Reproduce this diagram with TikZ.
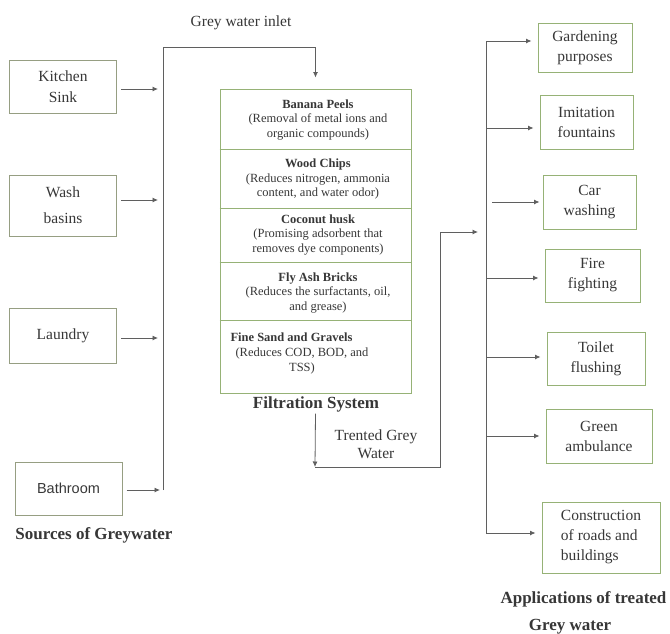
\documentclass[tikz,border=0pt]{standalone}
\usepackage{fontspec}
\setmainfont{Liberation Serif}
\newfontfamily\arialfont{Liberation Sans}
\usetikzlibrary{arrows.meta}
\definecolor{boxline}{RGB}{150,178,118}
\definecolor{srcline}{RGB}{150,158,130}
\definecolor{inktext}{RGB}{55,55,55}
\definecolor{wire}{RGB}{95,95,95}
\begin{document}
\begin{tikzpicture}[x=1pt,y=-1pt,
	srcbox/.style={draw=srcline, line width=1pt, minimum width=107pt, text=inktext, align=center, font=\fontsize{15.5}{21}\selectfont},
	appbox/.style={draw=boxline, line width=1pt, text=inktext, align=center, font=\fontsize{15.5}{20}\selectfont},
	layer/.style={text=inktext, align=center, font=\fontsize{12.5}{14.5}\selectfont},
	caption/.style={text=inktext, font=\bfseries\fontsize{17}{20}\selectfont},
	flow/.style={draw=wire, line width=0.8pt},
	feed/.style={flow, -{Latex[length=5.5pt,width=5pt]}}]

	\useasboundingbox (0,0) rectangle (670,633);

	% sources
	\node[srcbox, minimum height=53pt] (kitchen) at (63,86.5) {Kitchen\\Sink};
	\node[srcbox, minimum height=61pt] (wash) at (63,205.5) {Wash\\[5pt]basins};
	\node[srcbox, minimum height=55pt] (laundry) at (63,336) {Laundry};
	\node[srcbox, minimum height=53pt, font=\arialfont\fontsize{14.5}{17}\selectfont] (bath) at (68.5,488.5) {Bathroom};
	\node[caption] (srclabel) at (94,535) {Sources of Greywater};

	\coordinate (lbusT) at (163,47);
	\coordinate (lbusB) at (163,490);
	\draw[flow] (lbusB) -- (lbusT);
	\draw[feed, shorten <=4pt, shorten >=5pt] (kitchen.east |- 0,89) -- (lbusT |- 0,89);
	\draw[feed, shorten <=4pt, shorten >=5pt] (wash.east |- 0,200) -- (lbusT |- 0,200);
	\draw[feed, shorten <=4pt, shorten >=5pt] (laundry.east |- 0,338) -- (lbusT |- 0,338);
	\draw[feed, shorten <=4pt, shorten >=3pt] (bath.east |- lbusB) -- (lbusB);

	% filtration system
	\node[draw=boxline, line width=1pt, minimum width=191pt, minimum height=304pt] (filter) at (315.5,241) {};
	\foreach \yy in {149,208,262,320}
		\draw[draw=boxline, line width=0.8pt] (filter.west |- 0,\yy) -- (filter.east |- 0,\yy);

	\node[layer] (banana) at (318,120) {\textbf{Banana Peels}\\(Removal of metal ions and\\organic compounds)};
	\node[layer] (wood) at (318,179) {\textbf{Wood Chips}\\(Reduces nitrogen, ammonia\\content, and water odor)};
	\node[layer] (coconut) at (318,235) {\textbf{Coconut husk}\\(Promising adsorbent that\\removes dye components)};
	\node[layer] (flyash) at (318,293) {\textbf{Fly Ash Bricks}\\(Reduces the surfactants, oil,\\and grease)};
	\node[layer, anchor=west] (sand) at (227,337) {\textbf{Fine Sand and Gravels}};
	\node[layer] (sandnote) at (302,361) {(Reduces COD, BOD, and\\TSS)};
	\node[caption] (filterlabel) at (316,404) {Filtration System};

	\node[text=inktext, font=\fontsize{15.5}{20}\selectfont] (inlet) at (241,23) {Grey water inlet};
	\coordinate (inletturn) at (filter.north |- lbusT);
	\draw[flow] (lbusT) -- (inletturn);
	\draw[feed] (inletturn) -- ([yshift=11pt]filter.north);

	% treated water
	\coordinate (tdrop) at (315,467);
	\coordinate (tturn) at (440,467);
	\coordinate (tup) at (440,232);
	\coordinate (rbusT) at (486,41);
	\coordinate (rbusB) at (486,533);
	\draw[feed] ([yshift=-20pt]filter.south) -- (tdrop);
	\draw[feed, shorten >=8pt] (tdrop) -- (tturn) -- (tup) -- (tup -| rbusT);
	\node[text=inktext, align=center, font=\fontsize{15.5}{17.5}\selectfont] (treated) at (376,444) {Trented Grey\\Water};

	% applications
	\node[appbox, minimum width=94pt, minimum height=49pt] (garden) at (585,47.5) {Gardening\\purposes};
	\node[appbox, minimum width=93pt, minimum height=54pt] (fountain) at (586.5,122) {Imitation\\fountains};
	\node[appbox, minimum width=93pt, minimum height=54pt] (car) at (589.5,202) {Car\\washing};
	\node[appbox, minimum width=95pt, minimum height=53pt] (fire) at (592.5,275.5) {Fire\\fighting};
	\node[appbox, minimum width=98pt, minimum height=53pt] (toilet) at (596,358.5) {Toilet\\flushing};
	\node[appbox, minimum width=106pt, minimum height=54pt] (ambulance) at (599,436) {Green\\ambulance};
	\node[appbox, minimum width=118pt, minimum height=71pt, align=left] (roads) at (601,537.5) {Construction\\of roads and\\buildings};

	\draw[flow] (rbusT) -- (rbusB);
	\foreach \app/\yy in {garden/41, fountain/128, fire/278, toilet/357, ambulance/436, roads/533}
		\draw[feed, shorten >=6pt] (rbusT |- 0,\yy) -- (\app.west |- 0,\yy);
	\draw[feed, shorten <=6pt, shorten >=3pt] (rbusT |- car.west) -- (car.west);

	\node[caption, anchor=west] (applabel) at (497,599) {Applications of treated};
	\node[caption] (applabel2) at (570,627) {Grey water};

\end{tikzpicture}
\end{document}
